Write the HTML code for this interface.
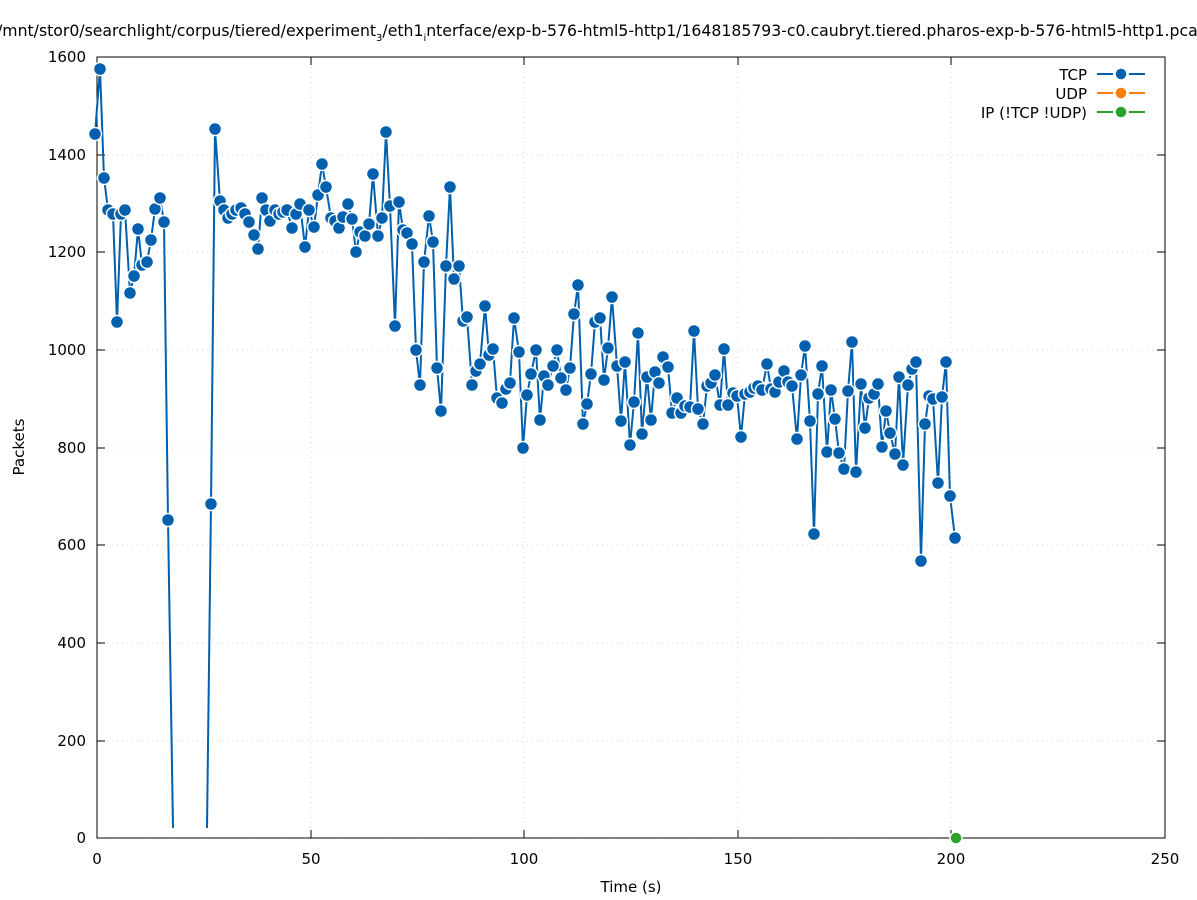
<!DOCTYPE html>
<html><head><meta charset="utf-8"><style>body{margin:0;background:#fff}svg{display:block}text{font-family:"DejaVu Sans","Liberation Sans",sans-serif;font-size:15px;fill:#000}</style></head><body>
<svg width="1197" height="900" viewBox="0 0 1197 900" xmlns="http://www.w3.org/2000/svg">
<g stroke="#d4d4d4" stroke-dasharray="1,4" stroke-width="1">
<line x1="97" y1="741" x2="1165" y2="741"/><line x1="97" y1="643" x2="1165" y2="643"/><line x1="97" y1="545" x2="1165" y2="545"/><line x1="97" y1="448" x2="1165" y2="448"/><line x1="97" y1="350" x2="1165" y2="350"/><line x1="97" y1="252" x2="1165" y2="252"/><line x1="97" y1="155" x2="1165" y2="155"/>
<line x1="311" y1="57" x2="311" y2="838"/><line x1="524" y1="57" x2="524" y2="838"/><line x1="738" y1="57" x2="738" y2="838"/><line x1="951" y1="57" x2="951" y2="838"/>
</g>
<rect x="97" y="57" width="1068" height="781" fill="none" stroke="#000" stroke-width="1"/>
<g stroke="#000" stroke-width="1">
<path d="M97 741h8M97 643h8M97 545h8M97 448h8M97 350h8M97 252h8M97 155h8M1165 741h-8M1165 643h-8M1165 545h-8M1165 448h-8M1165 350h-8M1165 252h-8M1165 155h-8M1165 57h-8M97 57h8"/>
<path d="M311 838v-8M524 838v-8M738 838v-8M951 838v-8M311 57v8M524 57v8M738 57v8M951 57v8"/>
</g>
<g text-anchor="end"><text x="86" y="843">0</text><text x="86" y="746">200</text><text x="86" y="648">400</text><text x="86" y="550">600</text><text x="86" y="453">800</text><text x="86" y="355">1000</text><text x="86" y="257">1200</text><text x="86" y="160">1400</text><text x="86" y="62">1600</text></g>
<g text-anchor="middle"><text x="97" y="864">0</text><text x="311" y="864">50</text><text x="524" y="864">100</text><text x="738" y="864">150</text><text x="951" y="864">200</text><text x="1165" y="864">250</text><text x="631" y="892">Time (s)</text></g>
<text transform="translate(24,447) rotate(-90)" text-anchor="middle">Packets</text>
<text x="-3" y="36" style="font-size:15.7px">/mnt/stor0/searchlight/corpus/tiered/experiment<tspan font-size="10" dy="5">3</tspan><tspan dy="-5">/eth1</tspan><tspan font-size="10" dy="5">i</tspan><tspan dy="-5">nterface/exp-b-576-html5-http1/1648185793-c0.caubryt.tiered.pharos-exp-b-576-html5-http1.pcap</tspan></text>
<path d="M100 838h860" stroke="#2ca02c" stroke-width="1.5" stroke-dasharray="1,7.5"/>
<polyline fill="none" stroke="#0060ad" stroke-width="2" points="95,134 100,69 104,178 108,210 113,214 117,322 121,214 125,210 130,293 134,276 138,229 142,265 147,262 151,240 155,209 160,198 164,222 168,520 173,828"/>
<polyline fill="none" stroke="#0060ad" stroke-width="2" points="207,828 211,504 215,129 220,201 224,210 228,218 232,214 236,210 241,208 245,214 249,222 254,235 258,249 262,198 266,210 270,221 275,210 279,214 283,212 287,210 292,228 296,214 300,204 305,247 309,210 314,227 318,195 322,164 326,187 331,218 335,221 339,228 343,217 348,204 352,219 356,252 360,232 365,236 369,224 373,174 378,236 382,218 386,132 390,206 395,326 399,202 403,230 407,233 412,244 416,350 420,385 424,262 429,216 433,242 437,368 441,411 446,266 450,187 454,279 459,266 463,321 467,317 472,385 476,371 480,364 485,306 489,355 493,349 497,398 502,403 506,389 510,383 514,318 519,352 523,448 527,395 531,374 536,350 540,420 544,376 548,385 553,366 557,350 561,378 566,390 570,368 574,314 578,285 583,424 587,404 591,374 595,322 600,318 604,380 608,348 612,297 617,366 621,421 625,362 630,445 634,402 638,333 642,434 647,377 651,420 655,372 659,383 663,357 668,367 672,413 677,398 681,413 685,406 690,407 694,331 698,409 703,424 707,386 711,383 715,375 720,405 724,349 728,405 733,393 737,396 741,437 745,394 750,392 754,388 758,386 762,390 767,364 771,389 775,392 779,382 784,371 788,382 792,386 797,439 801,375 805,346 810,421 814,534 818,394 822,366 827,452 831,390 835,419 839,453 844,469 848,391 852,342 856,472 861,384 865,428 869,398 874,394 878,384 882,447 886,411 890,433 895,454 899,377 903,465 908,385 912,369 916,362 921,561 925,424 929,396 933,399 938,483 942,397 946,362 950,496 955,538"/>
<g id="m" fill="#0060ad" stroke="#fff" stroke-width="1.5"></g>
<text x="1087" y="80" text-anchor="end">TCP</text><text x="1087" y="99" text-anchor="end">UDP</text><text x="1087" y="118" text-anchor="end">IP (!TCP  !UDP)</text>
<path d="M1097 74h16M1129 74h16" stroke="#0060ad" stroke-width="2"/><circle cx="1121" cy="74" r="6" fill="#0060ad" stroke="#fff" stroke-width="1.5"/>
<path d="M1097 93h16M1129 93h16" stroke="#ff7f0e" stroke-width="2"/><circle cx="1121" cy="93" r="6" fill="#ff7f0e" stroke="#fff" stroke-width="1.5"/>
<path d="M1097 112h16M1129 112h16" stroke="#2ca02c" stroke-width="2"/><circle cx="1121" cy="112" r="6" fill="#2ca02c" stroke="#fff" stroke-width="1.5"/>
<circle cx="956" cy="838" r="6" fill="#2ca02c" stroke="#fff" stroke-width="1.5"/>
<script>
var g=document.getElementById('m'),ls=document.querySelectorAll('polyline');
ls.forEach(function(l){l.getAttribute('points').trim().split(/\s+/).forEach(function(p){var a=p.split(',');if(+a[1]>=828)return;var c=document.createElementNS('http://www.w3.org/2000/svg','circle');c.setAttribute('cx',a[0]);c.setAttribute('cy',a[1]);c.setAttribute('r','6.5');g.appendChild(c);});});
</script>
</svg>
</body></html>
